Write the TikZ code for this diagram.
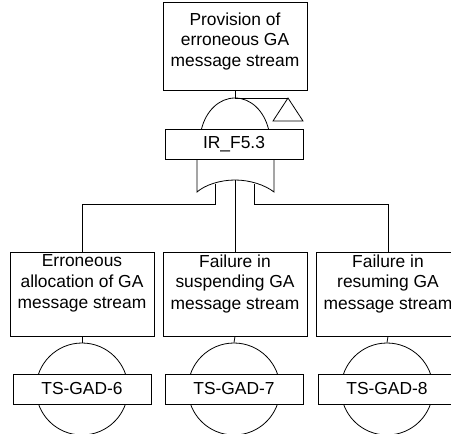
\documentclass[tikz,border=0pt]{standalone}
\usepackage{fontspec}
\setmainfont{Liberation Sans}
\begin{document}
\begin{tikzpicture}[x=1pt,y=-1pt,line width=0.8pt,
  eventbox/.style={draw,minimum width=144pt,inner sep=0pt},
  tagbox/.style={draw,fill=white,minimum width=138pt,minimum height=30pt,inner sep=0pt,
    font=\fontsize{17.4}{21}\selectfont},
  caption/.style={align=center,inner sep=0pt,font=\fontsize{17.4}{21}\selectfont},
  basic/.style={draw,circle,minimum size=92pt,inner sep=0pt},
  wire/.style={draw}]
\useasboundingbox (0,0) rectangle (451,434);
\clip (0,0) rectangle (451,434);

% top event
\node[eventbox,minimum height=88pt] (top) at (235,46) {};
\node[caption] (toptext) at (235,41.5) {Provision of\\erroneous GA\\message stream};

% AND-type gate dome above the gate label
\coordinate (andtop) at (235,98);
\draw (201.5,129) .. controls (206,111) and (219,98) .. (andtop)
      .. controls (251,98) and (264,111) .. (268.5,129);
\draw[wire] (top.south) -- (andtop);

% transfer triangle
\coordinate (xfer) at (288,98);
\draw[wire] (andtop) -- (xfer);
\draw (xfer) -- (273,121) -- (303,121) -- cycle;

% gate label
\node[tagbox] (gate) at (234,144) {IR\_F5.3};

% OR-type gate body below the gate label
\draw (197,159) -- (197,192) .. controls (205,185) and (220,180) .. (235,180)
      .. controls (250,180) and (265,185) .. (274,192) -- (274,159);
\coordinate (inL) at (215,184.3);
\coordinate (inC) at (235,180);
\coordinate (inR) at (254,184.3);
\coordinate (bus) at (0,204);

% intermediate events
\node[eventbox,minimum height=84pt] (ev1) at (82,294) {};
\node[eventbox,minimum height=84pt] (ev2) at (235,294) {};
\node[eventbox,minimum height=84pt] (ev3) at (388,294) {};
\node[caption] (ev1text) at (82,283.5) {Erroneous\\allocation of GA\\message stream};
\node[caption] (ev2text) at (235,283.5) {Failure in\\suspending GA\\message stream};
\node[caption] (ev3text) at (388,283.5) {Failure in\\resuming GA\\message stream};

\draw[wire] (inL) -- (inL |- bus) -| (ev1.north);
\draw[wire] (inC) -- (ev2.north);
\draw[wire] (inR) -- (inR |- bus) -| (ev3.north);

% basic events with their labels
\node[basic] (b1) at (82,389) {};
\node[basic] (b2) at (234,389) {};
\node[basic] (b3) at (387,389) {};
\draw[wire] (ev1.south) -- (b1.north);
\draw[wire] (ev2.south) -- (b2.north);
\draw[wire] (ev3.south) -- (b3.north);
\node[tagbox] (t1) at (82,389) {TS-GAD-6};
\node[tagbox] (t2) at (234,389) {TS-GAD-7};
\node[tagbox] (t3) at (387,389) {TS-GAD-8};
\end{tikzpicture}
\end{document}
